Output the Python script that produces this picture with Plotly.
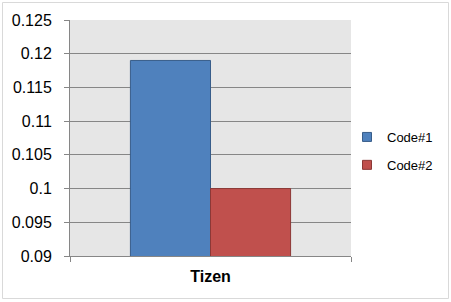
import plotly.graph_objects as go

categories = ["Tizen"]
series_names = ["Code#1", "Code#2"]
code1 = [0.119]
code2 = [0.100]
y_ticks = [0.09, 0.095, 0.1, 0.105, 0.11, 0.115, 0.12, 0.125]
y_labels = ["0.09", "0.095", "0.1", "0.105", "0.11", "0.115", "0.12", "0.125"]
colors = ["#4f81bd", "#c0504d"]
edges = ["#385d8a", "#8c3836"]

W, H = 451, 302
ml, mr, mt, mb = 70, 100, 20, 46
pw, ph = W - ml - mr, H - mt - mb

fig = go.Figure()
for name, vals, c, e in zip(series_names, [code1, code2], colors, edges):
    fig.add_trace(go.Bar(x=categories, y=vals, name=name, showlegend=False,
                         marker=dict(color=c, line=dict(color=e, width=1))))
for i, (name, c, e) in enumerate(zip(series_names, colors, edges)):
    fig.add_trace(go.Scatter(x=categories, y=[None], name=name, mode="markers",
                             legendgroup=f"g{i}", hoverinfo="skip",
                             marker=dict(symbol="square", size=9, color=c,
                                         line=dict(color=e, width=1))))

fig.update_layout(
    width=W, height=H,
    margin=dict(l=ml, r=mr, t=mt, b=mb),
    paper_bgcolor="white",
    plot_bgcolor="#e6e6e6",
    barmode="group",
    bargap=0.43,
    bargroupgap=0,
    font=dict(family="Liberation Sans, Arial, sans-serif", color="#000000"),
    showlegend=True,
    legend=dict(x=(347 - ml) / pw, y=(256 - 151) / ph, xanchor="left", yanchor="middle",
                font=dict(size=13), tracegroupgap=8, bgcolor="rgba(0,0,0,0)"),
    xaxis=dict(type="category", showline=True, linecolor="#868686", linewidth=1,
               ticks="outside", tickson="boundaries", ticklen=5, tickcolor="#868686",
               tickfont=dict(size=16, weight="bold"),
               ticklabelstandoff=6, showgrid=False),
    yaxis=dict(range=[0.09, 0.125], tickvals=y_ticks, ticktext=y_labels,
               showline=True, linecolor="#868686", linewidth=1,
               ticks="outside", ticklen=5, tickcolor="#868686",
               showgrid=True, gridcolor="#868686", gridwidth=1,
               zeroline=False, tickfont=dict(size=16), ticklabelstandoff=9),
)

# outer chart border
fig.add_shape(type="rect", xref="paper", yref="paper",
              x0=(2.5 - ml) / pw, x1=(W - 2.5 - ml) / pw,
              y0=-(mb - 3.5) / ph, y1=1 + (mt - 2.5) / ph,
              line=dict(color="#d9d9d9", width=1), fillcolor="rgba(0,0,0,0)", layer="below")

fig.write_html("out.html")
